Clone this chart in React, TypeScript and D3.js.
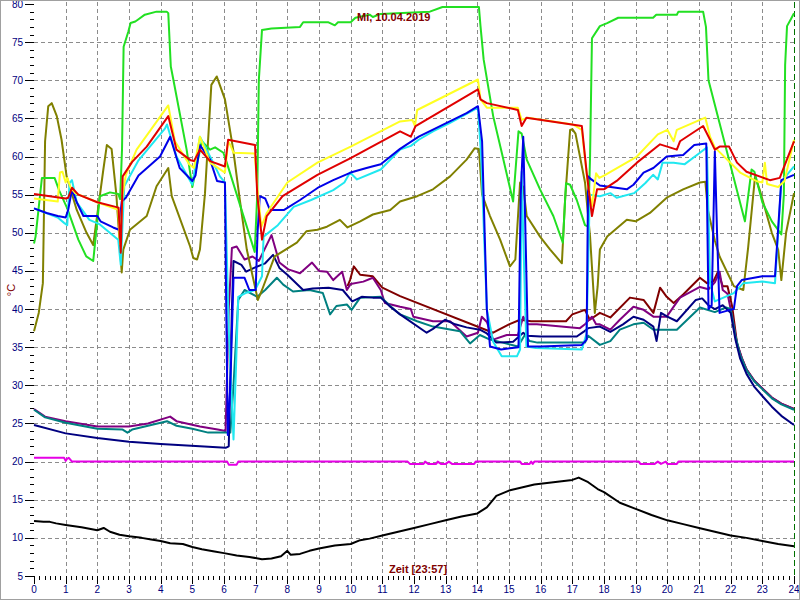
import React from "react";
import * as d3 from "d3";

type P = [number, number];

// ---- data (hour, °C) ----
const outdoorBlack: P[] = [[0,12.2],[0.3,12.1],[0.5,12.1],[0.7,11.9],[1,11.7],[1.5,11.4],[2,11.0],[2.2,11.3],[2.4,10.8],[2.7,10.4],[3,10.2],[3.4,10.0],[3.7,9.8],[4,9.6],[4.3,9.3],[4.7,9.2],[5,8.8],[5.3,8.5],[5.7,8.2],[6,8.0],[6.4,7.7],[6.8,7.5],[7.2,7.2],[7.5,7.3],[7.8,7.6],[8,8.3],[8.1,7.8],[8.4,7.9],[8.7,8.3],[9,8.6],[9.5,9.0],[10,9.2],[10.3,9.7],[10.6,9.9],[11,10.3],[11.5,10.8],[12,11.3],[12.5,11.8],[13,12.3],[13.5,12.8],[14,13.2],[14.3,14.0],[14.6,15.5],[15,16.2],[15.4,16.6],[15.8,17.0],[16.2,17.2],[16.6,17.4],[17,17.6],[17.2,17.9],[17.5,17.3],[17.8,16.4],[18.0,16.0],[18.5,14.6],[19,13.8],[19.5,13.0],[20,12.3],[20.5,11.8],[21,11.3],[21.5,10.8],[22,10.3],[22.5,10.0],[23,9.6],[23.5,9.2],[24,8.9]];

const roomMagenta: P[] = [[0,20.5],[0.95,20.5],[1.0,20.1],[1.05,20.4],[1.1,20.5],[1.2,20.0],[6.1,20.0],[6.15,19.6],[6.4,19.6],[6.45,20.0],[11.8,20.0],[11.87,19.7],[12.3,19.7],[12.35,20.0],[12.45,19.7],[12.7,19.7],[12.75,20.0],[12.85,19.7],[13.0,19.7],[13.1,20.0],[13.2,19.7],[13.9,19.7],[13.95,20.0],[15.35,20.0],[15.4,19.7],[15.65,19.7],[15.7,20.0],[15.75,19.7],[15.8,20.0],[19.1,20.0],[19.15,19.7],[19.6,19.7],[19.7,20.0],[19.8,19.7],[19.95,20.0],[20.0,19.7],[20.3,19.7],[20.35,20.0],[24,20.0]];

const boilerGreen: P[] = [[0,48.6],[0.05,49.5],[0.25,57.2],[0.65,57.2],[0.8,55.5],[1.05,53.2],[1.4,49.1],[1.65,46.9],[1.87,46.3],[2.08,54.8],[2.4,55.3],[2.66,55.1],[2.72,54.4],[2.78,61],[2.83,74.4],[2.98,76.4],[3.05,77.5],[3.2,77.7],[3.3,78.0],[3.5,78.6],[3.87,79.0],[4.19,79.0],[4.24,78.8],[4.32,71.8],[4.4,70.1],[4.82,60.9],[5.0,56],[5.15,59],[5.3,62],[5.56,60.9],[5.72,61.2],[5.98,60.5],[6.08,59.3],[6.97,47.5],[7.05,55],[7.1,70],[7.2,76.6],[7.5,76.8],[8.4,77.0],[8.5,77.6],[9.3,77.6],[9.5,77.2],[9.6,77.6],[10.0,77.6],[10.15,78.2],[10.6,78.6],[10.7,78.3],[10.95,78.7],[12.5,79.0],[12.9,79.6],[14.05,79.6],[14.1,77.1],[14.2,72.7],[14.5,65.3],[14.8,60.0],[15.13,54.1],[15.3,63.3],[15.4,63.0],[15.56,59.6],[15.98,55.7],[16.4,52.2],[16.7,48.7],[16.8,56.5],[16.93,56.3],[17.14,54.3],[17.4,51.0],[17.5,50.8],[17.56,60],[17.62,75.5],[17.87,77.1],[18.1,77.5],[18.45,78.2],[19.55,78.2],[19.65,78.6],[20.3,78.6],[20.35,79.0],[21.13,79.0],[21.22,77],[21.3,70],[22.45,51.5],[22.66,58.3],[22.75,58.0],[23.0,54],[23.3,51.5],[23.6,49.8],[23.68,55],[23.72,72],[23.78,77.1],[23.9,78],[24,78.8]];

const flowYellow: P[] = [[0,54.5],[0.75,54.1],[0.82,57.9],[0.9,58],[1.0,56.6],[1.05,57.2],[1.15,56],[1.3,55.2],[2.0,54.0],[2.66,53.0],[2.72,48.5],[2.8,55],[2.9,57.6],[3.24,60.9],[4.24,66.7],[4.45,62],[4.9,59],[5.05,58.5],[5.24,62.6],[5.56,59.2],[6.03,57.9],[6.13,62],[6.2,61.5],[6.3,60.5],[6.97,60.4],[7.05,56],[7.18,50.8],[7.35,52.6],[8.0,56.6],[8.95,59.2],[10.0,61.3],[11.56,64.6],[11.95,64.8],[12.03,64.0],[12.1,66.1],[14.02,70.1],[14.1,67.5],[14.3,66.4],[15.28,66.4],[15.4,64.8],[15.6,65.1],[17.02,64.2],[17.3,63.5],[17.5,56],[17.62,53.5],[17.75,57.8],[17.85,57.2],[18.0,57.5],[19.04,60.0],[19.7,62.9],[20.0,63.5],[20.2,62],[20.3,63.5],[21.03,64.8],[21.2,65.1],[21.35,62.6],[21.5,61.2],[22.3,57.9],[22.8,56.8],[23.0,56.6],[23.08,59.2],[23.15,56.4],[23.5,56.0],[23.7,56.8],[24,62.2]];

const flowRed: P[] = [[0,55.1],[1.0,54.5],[1.08,54.6],[1.2,55.9],[1.4,55],[2.0,54.0],[2.67,53.3],[2.74,47.4],[2.8,57.4],[3.1,59.3],[3.56,61.3],[4.24,65.3],[4.5,60.9],[4.95,59.5],[5.05,59.4],[5.24,60.9],[5.56,59.4],[6.03,58.7],[6.13,62.2],[6.98,61.5],[7.05,55],[7.2,49.1],[7.35,52.2],[7.85,54.8],[8.95,57.6],[10.0,59.8],[11.56,63.3],[11.9,62.6],[12.05,64.0],[14.02,68.8],[14.1,67.5],[14.3,67.0],[15.28,66.1],[15.4,64.0],[15.55,65.1],[17.3,64.0],[17.45,58],[17.62,52.2],[17.78,55.7],[18.0,55.7],[18.4,56.8],[19.04,59.2],[19.77,61.6],[20.3,60.9],[20.4,62],[21.13,64.0],[21.35,62.2],[21.5,60.9],[21.65,61.3],[21.95,61.3],[22.2,59.2],[22.5,58.0],[23.24,56.9],[23.55,57.2],[24,62.0]];

const tankBlue: P[] = [[0,53.2],[0.4,52.6],[0.75,52.2],[1.0,52.0],[1.08,53],[1.2,55.7],[1.35,54],[1.56,52.2],[2.0,52.2],[2.1,51.5],[2.5,50.7],[2.68,50.4],[2.77,54.1],[2.9,54.6],[3.3,57.5],[3.98,60.0],[4.3,62.6],[4.6,58.5],[5.0,56.8],[5.1,57.5],[5.24,61.5],[5.56,59.6],[5.78,56.8],[6.03,56.6],[6.07,40.3],[6.12,23.5],[6.2,30],[6.3,44.1],[6.65,44.1],[6.8,42.5],[7.0,42.5],[7.06,50],[7.13,54.8],[7.3,54.5],[7.45,53.0],[7.9,53.0],[8.4,54.3],[9.0,56.0],[9.45,56.9],[10.0,57.9],[10.5,58.5],[10.95,59.0],[11.56,61.0],[12.15,62.6],[13.66,65.7],[14.02,66.6],[14.15,62],[14.3,40],[14.4,35.1],[14.75,34.7],[15.3,35.0],[15.37,55],[15.45,62.6],[15.52,50],[15.6,35.1],[16.0,35.1],[17.3,35.3],[17.45,36],[17.5,57.4],[17.6,57],[17.87,56.2],[18.72,55.7],[18.93,56.3],[19.25,57.9],[19.56,58.5],[19.98,60.0],[20.5,60.2],[20.85,61.5],[21.23,61.7],[21.3,40],[21.4,40.5],[21.5,60.7],[21.57,50],[21.65,39.5],[21.9,39.8],[22.1,40.0],[22.2,43.0],[22.35,43.8],[23.0,44.3],[23.4,44.3],[23.6,56.9],[24,57.6]];

const tankCyan: P[] = [[0,53.2],[0.75,52.0],[0.95,51.3],[1.05,51.0],[1.12,56.5],[1.2,56.9],[1.35,54],[1.75,51.7],[2.08,51.1],[2.66,49.1],[2.74,45.8],[2.85,56.1],[3.3,59.5],[4.14,63.7],[4.2,64.2],[4.5,60],[5.0,56.3],[5.24,62.6],[5.56,60.0],[5.87,57.4],[6.03,56.6],[6.15,37.3],[6.3,22.9],[6.38,32.5],[6.45,41.6],[6.68,42.1],[6.98,42.5],[7.2,44.3],[7.25,49.5],[7.7,51.0],[8.2,53.4],[8.75,54.3],[9.45,55.6],[9.8,56.6],[9.98,57.9],[10.2,57.0],[10.95,58.3],[11.56,60.9],[11.9,61.4],[12.15,62.2],[12.6,63.3],[13.14,64.4],[14.02,66.4],[14.12,60],[14.3,40],[14.5,35.7],[14.77,33.8],[15.25,33.8],[15.35,34.7],[15.4,58],[15.48,45],[15.55,35.1],[15.85,34.9],[17.3,34.7],[17.45,36.8],[17.55,55],[17.87,54.8],[18.2,55.2],[18.4,54.6],[18.95,55.2],[19.3,56.5],[19.55,57.6],[19.7,57],[19.85,59.2],[20.2,59.2],[20.55,59.0],[21.03,60.5],[21.25,61.2],[21.35,43.4],[21.5,41],[22.1,42.1],[22.4,43.4],[23.0,43.6],[23.4,43.4],[23.6,56.7],[24,58.7]];

const olive: P[] = [[0,37.1],[0.15,39.5],[0.28,43.4],[0.35,62],[0.45,66.6],[0.56,67.0],[0.72,65.3],[0.87,62.2],[1.03,57.4],[1.35,53.0],[1.66,50.0],[1.87,48.4],[2.19,58.3],[2.3,61.5],[2.45,61.0],[2.6,55],[2.77,44.8],[2.82,47.8],[3.03,50.4],[3.56,52.2],[3.87,56.1],[4.24,58.5],[4.35,54.8],[4.93,48.2],[5.03,46.7],[5.15,46.5],[5.24,47.8],[5.4,55.2],[5.6,69.4],[5.77,70.5],[6.03,67.5],[6.29,60.9],[6.5,54.3],[6.72,47.8],[7.07,41.2],[7.2,42.5],[7.6,46.9],[8.3,48.7],[8.6,50.2],[8.95,50.4],[9.25,50.8],[9.66,51.7],[9.9,50.7],[10.3,51.5],[10.7,52.4],[11.25,53.0],[11.56,54.1],[12.1,54.8],[12.6,55.7],[13.14,57.4],[13.66,59.6],[13.92,61.1],[14.05,61.0],[14.15,55],[14.4,52.2],[14.72,49.1],[15.03,45.6],[15.2,46.5],[15.35,56.6],[15.45,56],[15.56,52.2],[15.98,49.5],[16.3,47.8],[16.67,46.0],[16.77,54.3],[16.93,63.5],[17.0,63.6],[17.1,63],[17.4,56.6],[17.56,49.5],[17.71,39.5],[17.8,43],[17.87,47.8],[18.1,49.5],[18.72,51.7],[19.0,51.5],[19.45,52.6],[19.98,54.6],[20.5,55.7],[21.03,56.6],[21.2,56.7],[21.28,53.0],[21.5,49],[21.65,46.9],[22.1,43.0],[22.4,42.5],[22.55,48],[22.77,57.4],[22.92,55.6],[23.3,50.0],[23.5,47.8],[23.6,43.8],[23.75,50],[24,55.2]];

const maroon: P[] = [[9.9,43.0],[9.98,43.8],[10.1,45.6],[10.3,44.5],[10.7,44.3],[11.0,42.8],[11.56,41.7],[14.5,36.9],[15.0,38.0],[15.35,38.6],[15.7,38.4],[16.8,38.4],[17.0,39.3],[17.4,39.9],[17.55,38.6],[17.87,39.5],[18.2,38.9],[18.82,41.5],[19.25,41.2],[19.56,39.5],[19.77,42.8],[19.98,41.6],[20.2,40.8],[20.5,41.9],[21.03,44.1],[21.25,43.4],[21.45,43.6],[21.6,44.9],[21.75,43.0],[21.9,43.0],[22.05,40.3],[22.2,35.5],[22.35,33.6],[22.5,32.1],[22.75,30.6],[23.0,29.6],[23.3,28.4],[23.6,27.6],[24,26.9]];

const purple: P[] = [[0,26.9],[0.35,25.9],[1.0,25.3],[2.0,24.6],[3.0,24.6],[3.6,25.0],[4.3,25.9],[4.5,25.3],[5.24,24.6],[5.8,24.2],[6.05,24.0],[6.15,40],[6.25,48.0],[6.4,48.2],[6.65,46.5],[6.9,46.9],[7.1,46.3],[7.5,49.7],[7.75,46.1],[8.03,45.2],[8.4,44.7],[8.78,46.1],[9.0,45.0],[9.25,44.9],[9.45,43.8],[9.73,44.9],[9.88,42.5],[10.0,43.3],[10.4,43.6],[10.7,44.1],[10.95,42.5],[11.08,40.8],[11.56,40.3],[11.9,40.0],[11.98,39.0],[12.6,38.4],[13.14,38.4],[13.66,36.4],[14.02,36.9],[14.14,39.0],[14.3,38.3],[14.5,36.0],[14.93,36.6],[15.28,36.6],[15.45,39.0],[15.6,38.0],[15.88,38.0],[17.24,37.5],[17.4,38],[17.62,39.0],[17.75,38.0],[17.87,38.0],[18.2,37.3],[18.5,38.6],[18.93,40.3],[19.25,39.9],[19.56,39.0],[19.98,39.0],[20.4,41.5],[21.03,42.9],[21.3,42.6],[21.5,43.5],[21.65,44.9],[21.75,42.5],[21.9,42.0],[22.05,39],[22.2,35.5],[22.35,33.6],[22.5,32.1],[22.75,30.6],[23.0,29.6],[23.3,28.4],[23.6,27.6],[24,26.9]];

const navy: P[] = [[0,24.8],[1.0,23.7],[2.0,23.1],[3.0,22.6],[4.0,22.3],[5.24,22.0],[6.05,21.8],[6.15,22],[6.25,40],[6.3,46.3],[6.55,45.8],[6.7,44.9],[6.95,45.4],[7.3,46.0],[7.55,47.1],[7.75,45.4],[8.0,44.5],[8.5,42.5],[8.8,42.7],[9.3,42.8],[9.75,42.5],[10.05,41.0],[10.35,41.6],[10.7,41.5],[10.95,41.5],[11.25,40.3],[11.56,39.3],[12.4,36.9],[12.6,37.4],[12.98,38.6],[13.3,38.0],[13.66,37.6],[14.08,37.3],[14.3,36.8],[14.6,35.6],[15.13,35.7],[15.45,36.9],[15.56,36.5],[16.0,36.4],[17.14,36.4],[17.35,37.0],[17.5,37.5],[17.87,37.7],[18.2,37.0],[18.6,38],[18.93,39.0],[19.25,38.6],[19.56,37.7],[19.66,35.8],[19.8,39.5],[20.0,39.0],[20.3,38.4],[20.9,41.2],[21.1,41.4],[21.3,40.5],[21.5,40],[21.75,40.5],[22.0,39.5],[22.15,36],[22.3,33.5],[22.5,31.5],[22.75,29.8],[23.0,28.6],[23.3,27.2],[23.6,26.0],[24,24.8]];

const teal: P[] = [[0,26.8],[0.35,25.8],[1.0,25.1],[2.0,24.3],[2.8,24.2],[2.95,23.8],[3.1,24.2],[4.2,25.3],[4.5,24.7],[5.0,24.3],[5.5,23.8],[6.05,23.8],[6.2,23.8],[6.3,30],[6.45,41.2],[6.65,42.5],[7.05,41.6],[7.3,42.5],[7.67,44.1],[7.87,43.2],[8.18,42.3],[8.7,42.5],[9.12,42.1],[9.35,39.3],[9.55,40.4],[9.88,40.6],[10.03,39.9],[10.3,41.5],[10.95,41.6],[11.25,40.4],[11.56,39.3],[12.1,38.4],[12.6,37.7],[13.45,37.1],[13.77,35.5],[14.08,36.6],[14.4,36.0],[14.8,35.6],[15.28,35.1],[15.5,36.6],[15.65,35.8],[15.9,35.6],[17.4,35.6],[17.5,36.5],[17.87,35.3],[18.2,35.8],[18.5,37.3],[18.93,38.0],[19.25,38.2],[19.56,37.3],[20.3,37.3],[21.03,40.2],[21.5,39.6],[21.85,40.2],[22.0,40.0],[22.15,36.5],[22.3,34],[22.5,32],[22.75,30.5],[23.0,29.5],[23.3,28.3],[23.6,27.5],[24,26.8]];

const hourTicks = d3.range(0, 25);
const minorHourTicks = d3.range(0, 24 * 6 + 1).map((i) => i / 6);
const tempTicks = d3.range(5, 81);
const gridTemps = d3.range(10, 80, 5);
const titleText = "Mi, 10.04.2019";
const xTitle = "Zeit [23:57]";
const yTitle = "°C";

const series: { data: P[]; color: string }[] = [
  { data: outdoorBlack, color: "#000000" },
  { data: roomMagenta, color: "#e600e6" },
  { data: maroon, color: "#800000" },
  { data: purple, color: "#800080" },
  { data: teal, color: "#008080" },
  { data: navy, color: "#000080" },
  { data: olive, color: "#808000" },
  { data: boilerGreen, color: "#22e022" },
  { data: tankCyan, color: "#20e8f0" },
  { data: tankBlue, color: "#0000e8" },
  { data: flowYellow, color: "#ffff22" },
  { data: flowRed, color: "#e00000" },
];

export default function App() {
  const x = d3.scaleLinear().domain([0, 24]).range([34, 794]);
  const y = d3.scaleLinear().domain([5, 80]).range([576, 4]);
  const line = d3
    .line<P>()
    .x((d) => x(d[0]))
    .y((d) => y(d[1]));
  const font = "Arial, 'Liberation Sans', sans-serif";
  return (
    <div style={{ position: "absolute", left: 0, top: 0 }}>
      <svg width={800} height={600} style={{ display: "block", background: "#fff" }}>
        <rect x={0} y={0} width={800} height={600} fill="#ffffff" />
        {gridTemps.map((t) => (
          <line key={"hg" + t} x1={34} x2={794} y1={Math.round(y(t)) + 0.5} y2={Math.round(y(t)) + 0.5} stroke="#8c8c8c" strokeDasharray="4,3" />
        ))}
        {hourTicks.slice(1, 24).map((h) => (
          <line key={"vg" + h} x1={Math.round(x(h)) + 0.5} x2={Math.round(x(h)) + 0.5} y1={2} y2={576} stroke="#8c8c8c" strokeDasharray="4,3" />
        ))}
        <line x1={794.5} x2={794.5} y1={2} y2={576} stroke="#007000" strokeDasharray="6,3" />
        {tempTicks.map((t) => (
          <line key={"yt" + t} x1={t % 5 === 0 ? 25 : 30} x2={34} y1={Math.round(y(t)) + 0.5} y2={Math.round(y(t)) + 0.5} stroke="#000" />
        ))}
        {tempTicks.filter((t) => t % 5 === 0).map((t) => (
          <text key={"yl" + t} x={23} y={y(t)} dy="0.35em" textAnchor="end" fontSize={10} fontFamily={font} fill="#000080">
            {t}
          </text>
        ))}
        {minorHourTicks.map((h, i) => (
          <line key={"xt" + i} x1={Math.round(x(h)) + 0.5} x2={Math.round(x(h)) + 0.5} y1={576} y2={i % 6 === 0 ? 584 : 580} stroke="#000" />
        ))}
        {hourTicks.map((h) => (
          <text key={"xl" + h} x={x(h)} y={593} textAnchor="middle" fontSize={10} fontFamily={font} fill="#000080">
            {h}
          </text>
        ))}
        {series.map((s, i) => (
          <path key={"s" + i} d={line(s.data) || ""} fill="none" stroke={s.color} strokeWidth={2} strokeLinejoin="round" />
        ))}
        <text x={357} y={21} fontSize={11} fontWeight="bold" fontFamily={font} fill="#800000">
          {titleText}
        </text>
        <text x={389} y={573} fontSize={11} fontWeight="bold" fontFamily={font} fill="#800000">
          {xTitle}
        </text>
        <text transform="translate(15,290) rotate(-90)" textAnchor="middle" fontSize={11} fontFamily={font} fill="#800000">
          {yTitle}
        </text>
        <rect x={0.5} y={0.5} width={799} height={599} fill="none" stroke="#a0a0a0" />
      </svg>
    </div>
  );
}
